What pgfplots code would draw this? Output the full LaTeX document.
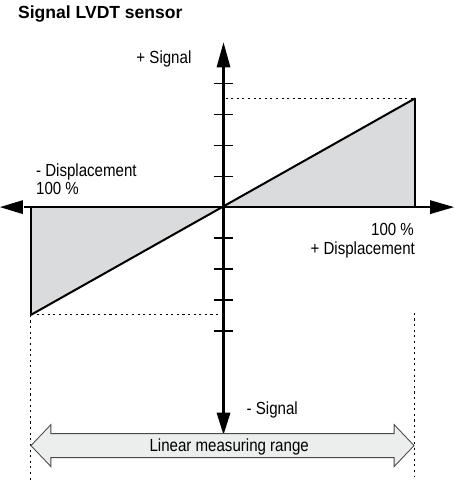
\documentclass[border=0pt]{standalone}
\usepackage{fontspec}
\setmainfont{Liberation Sans}[FakeStretch=0.86]
\newfontfamily\titlefont{Liberation Sans}
\usepackage{pgfplots}
\pgfplotsset{compat=1.18}
\definecolor{areagray}{HTML}{DADBDC}
\definecolor{bandgray}{HTML}{ECEDED}
\definecolor{bandedge}{HTML}{4A4A4A}

% one unit = one pixel of the reference, origin at the crossing of the axes
\begin{document}
\begin{tikzpicture}
\begin{axis}[
  x=0.02cm, y=0.02cm,
  xmin=-226, xmax=239, ymin=-274, ymax=207,
  hide axis, clip=false,
  every node/.style={font=\fontsize{9.2}{11}\selectfont, inner sep=0pt}]

% shaded signal areas
\addplot[fill=areagray, draw=none] coordinates {(0,0) (192,0) (192,109) (0,0)};
\addplot[fill=areagray, draw=none] coordinates {(0,0) (-193,0) (-193,-108) (0,0)};
\addplot[black, line width=0.8pt] coordinates {(192,0) (192,109)};
\addplot[black, line width=0.8pt] coordinates {(-193,0) (-193,-108)};

% guide lines
\addplot[black, line width=0.55pt, dash pattern=on 1.2pt off 2pt] coordinates {(2,109) (192,109)};
\addplot[black, line width=0.55pt, dash pattern=on 1.2pt off 2pt] coordinates {(-193,-108) (-6,-108)};
\addplot[black, line width=0.55pt, dash pattern=on 1.2pt off 2pt] coordinates {(-193,-108) (-193,-274)};
\addplot[black, line width=0.55pt, dash pattern=on 1.2pt off 2pt] coordinates {(191,-106) (191,-270)};

% axes
\draw[black, line width=1.3pt] (axis cs:-200,0) -- (axis cs:208,0);
\draw[black, line width=1.3pt] (axis cs:0,143) -- (axis cs:0,-208);
\fill[black] (axis cs:-224,0) -- (axis cs:-201,7) -- (axis cs:-201,-7) -- cycle;
\fill[black] (axis cs:231,0) -- (axis cs:207,7) -- (axis cs:207,-7) -- cycle;
\fill[black] (axis cs:0,165) -- (axis cs:-7,140) -- (axis cs:7,140) -- cycle;
\fill[black] (axis cs:0,-228) -- (axis cs:-7,-206) -- (axis cs:7,-206) -- cycle;
\pgfplotsinvokeforeach{-124,-93,-62,-31,31,62,93,124}{
  \draw[black, line width=0.75pt] (axis cs:-10,#1) -- (axis cs:10,#1);
}

% characteristic
\addplot[black, line width=1.15pt] coordinates {(-193,-108) (192,109)};

% measuring range arrow
\draw[bandedge, fill=bandgray, line width=0.5pt]
  (axis cs:-193,-239) -- (axis cs:-173,-218) -- (axis cs:-173,-227)
  -- (axis cs:171,-227) -- (axis cs:171,-218) -- (axis cs:191,-239)
  -- (axis cs:171,-260) -- (axis cs:171,-251) -- (axis cs:-173,-251)
  -- (axis cs:-173,-260) -- cycle;

% labels
\node[anchor=base west, font=\titlefont\bfseries\fontsize{10}{12}\selectfont] at (axis cs:-212,189) {Signal LVDT sensor};
\node[anchor=base east] at (axis cs:-26,144) {+ Signal};
\node[anchor=base west] at (axis cs:-194,31) {- Displacement};
\node[anchor=base west] at (axis cs:-194,12.7) {100 \%};
\node[anchor=base east] at (axis cs:197,-28.7) {100 \%};
\node[anchor=base east] at (axis cs:198,-47) {+ Displacement};
\node[anchor=base west] at (axis cs:17,-208) {- Signal};
\node[anchor=base] at (axis cs:5.7,-244.7) {Linear measuring range};
\end{axis}
\end{tikzpicture}
\end{document}
